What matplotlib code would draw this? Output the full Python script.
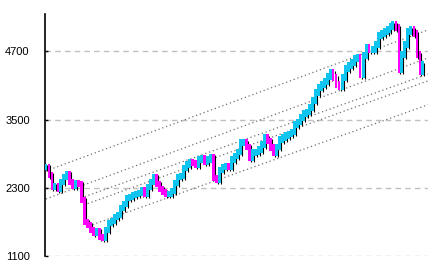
import numpy as np
import matplotlib
matplotlib.use("Agg")
import matplotlib.pyplot as plt

# closing values, one per period
closes = [
    2666, 2526, 2314, 2332, 2279, 2402, 2490, 2543, 2402, 2332,
    2385, 2367, 2086, 1698, 1646, 1558, 1505, 1540, 1434, 1417,
    1558, 1681, 1716, 1786, 1822, 1945, 2015, 2121, 2138, 2174,
    2191, 2209, 2262, 2191, 2314, 2402, 2490, 2367, 2279, 2226,
    2191, 2191, 2244, 2385, 2490, 2508, 2649, 2702, 2754, 2737,
    2702, 2790, 2825, 2754, 2790, 2842, 2473, 2438, 2614, 2666,
    2684, 2666, 2790, 2860, 2930, 3089, 3089, 3018, 2825, 2913,
    2930, 2966, 3054, 3177, 3124, 3001, 2913, 3018, 3142, 3177,
    3212, 3247, 3282, 3406, 3458, 3529, 3599, 3634, 3705, 3828,
    3969, 4057, 4110, 4162, 4250, 4321, 4233, 4110, 4074, 4233,
    4391, 4444, 4497, 4567, 4585, 4286, 4620, 4761, 4726, 4726,
    4814, 4972, 5007, 5042, 5078, 5130, 5166, 5113, 4374, 4638,
    4814, 5042, 5078, 5007, 4638, 4338, 4462,
]

# dotted trend lines: start index, start value, end value (end at right edge)
trend_start_idx = [0, 0, 11.7, 12.7, 14.3]
trend_start_val = [2595, 2103, 2120, 1997, 1628]
trend_end_val = [5075, 4583, 4300, 4180, 3760]

yticks = [1100, 2300, 3500, 4700]

fig = plt.figure(figsize=(4.32, 2.70), dpi=100)
ax = fig.add_axes([45 / 432, 14 / 270, 383 / 432, 242 / 270])

n = len(closes)
x_end = 127.7
ax.set_xlim(-0.3, x_end)
ax.set_ylim(1100, 5356)

for t in yticks:
    ax.axhline(t, color="#c0c0c0", lw=1.0, ls=(0, (4, 3)), zorder=1)

for s, v0, v1 in zip(trend_start_idx, trend_start_val, trend_end_val):
    ax.plot([s, x_end], [v0, v1], color="#707070", lw=0.9,
            ls=(0, (1, 2.2)), zorder=2)

c = np.array(closes, dtype=float)
o = np.r_[c[0], c[:-1]]
idx = np.arange(n)
lo = np.minimum(o, c)
hi = np.maximum(o, c)
up = c >= o

# black shadows, then coloured bodies (body padded a little for visibility)
ax.vlines(idx + 0.5, lo - 70, hi + 40, color="black", lw=0.8, zorder=3)
ax.bar(idx[up], (hi - lo)[up] + 120, bottom=lo[up] - 60, width=1.0,
       color="#10c4f0", zorder=4)
ax.bar(idx[~up], (hi - lo)[~up] + 120, bottom=lo[~up] - 60, width=0.9,
       color="#ff00ff", zorder=5)

ax.set_yticks(yticks)
ax.set_yticklabels([str(t) for t in yticks], family="Liberation Sans",
                   fontsize=8)
ax.set_xticks([])
ax.tick_params(axis="y", direction="in", length=2.5, width=1, pad=11)
for side in ("top", "right", "bottom"):
    ax.spines[side].set_visible(False)
ax.spines["left"].set_linewidth(1.2)

fig.savefig("out.png", dpi=100)
